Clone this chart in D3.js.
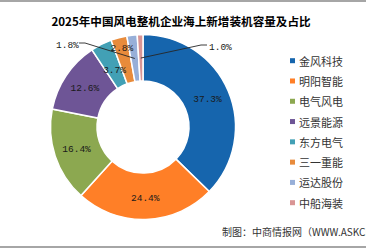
<!DOCTYPE html>
<html>
<head>
<meta charset="utf-8">
<script src="https://cdn.jsdelivr.net/npm/d3@7/dist/d3.min.js"></script>
<style>
html,body{margin:0;padding:0;background:#fff;}
svg{display:block;}
</style>
</head>
<body>
<svg id="chart" width="366" height="248"></svg>
<script>
const title = "2025年中国风电整机企业海上新增装机容量及占比";
const categories = ["金风科技","明阳智能","电气风电","远景能源","东方电气","三一重能","运达股份","中船海装"];
const shares = [37.3, 24.4, 16.4, 12.6, 3.7, 2.8, 1.8, 1.0];
const source = "制图：中商情报网（WWW.ASKCI.COM）";

const colors = ["#1665ad","#ff7f27","#8ca850","#6e5596","#42a0b5","#e88b3b","#97afd8","#d99595"];
// label placement tweaks (radius) and leader lines for small slices
const labelRadius = [70, 72, 70, 70, 63, 81, null, null];
const leaders = {6: {side: "left", tx: 56, ty: 44}, 7: {side: "right", tx: 209, ty: 46}};

const svg = d3.select("#chart");
const W = 366, H = 248;

// frame lines
svg.append("rect").attr("x",0).attr("y",0).attr("width",W).attr("height",2).attr("fill","#a6a6a6");
svg.append("rect").attr("x",0).attr("y",246).attr("width",W).attr("height",2).attr("fill","#a6a6a6");

svg.append("text")
  .attr("x", 181).attr("y", 25.5)
  .attr("text-anchor","middle")
  .attr("font-family","'Noto Sans CJK SC', sans-serif")
  .attr("font-weight","bold")
  .attr("font-size","11.6px")
  .attr("fill","#000")
  .text(title);

const cx = 143, cy = 127, R = 92.5, r0 = 46;
const g = svg.append("g").attr("transform",`translate(${cx},${cy})`);

const pie = d3.pie().sort(null).value(d => d);
const arcs = pie(shares);
const arc = d3.arc().innerRadius(r0).outerRadius(R);

g.selectAll("path.slice").data(arcs).enter().append("path")
  .attr("class","slice")
  .attr("d", arc)
  .attr("fill",(d,i)=>colors[i])
  .attr("stroke","#fff")
  .attr("stroke-width",1.5);

const labelFont = "'Liberation Mono', monospace";
arcs.forEach((d,i) => {
  const txt = d3.format(".1f")(d.data) + "%";
  if (leaders[i]) {
    const L = leaders[i];
    const mid = d3.arc().innerRadius(69).outerRadius(69).centroid(d);
    const px = mid[0] + cx, py = mid[1] + cy;
    let x1, x2;
    if (L.side === "left") {
      const tw = 22;
      x1 = L.tx + tw + 1; x2 = x1 + 6;
      svg.append("text").attr("x", L.tx).attr("y", L.ty + 3.5)
        .attr("font-family", labelFont).attr("font-size","9.5px").attr("fill","#1a1a1a").text(txt);
    } else {
      x1 = L.tx - 2; x2 = x1 - 6;
      svg.append("text").attr("x", L.tx).attr("y", L.ty + 3.5)
        .attr("font-family", labelFont).attr("font-size","9.5px").attr("fill","#1a1a1a").text(txt);
    }
    svg.append("path")
      .attr("d", `M${x1},${L.ty - 1}L${x2},${L.ty - 1}L${px},${py}`)
      .attr("fill","none").attr("stroke","#262626").attr("stroke-width",0.9);
  } else {
    const rr = labelRadius[i];
    const c = d3.arc().innerRadius(rr).outerRadius(rr).centroid(d);
    g.append("text")
      .attr("x", c[0]).attr("y", c[1])
      .attr("text-anchor","middle").attr("dominant-baseline","central")
      .attr("font-family", labelFont).attr("font-size","9.5px").attr("fill","#1a1a1a")
      .text(txt);
  }
});

// legend
const legendY = d3.scalePoint().domain(categories).range([60.7, 202.7]);
const lg = svg.append("g");
categories.forEach((c,i) => {
  const y = legendY(c);
  lg.append("rect").attr("x",290).attr("y",y-2.5).attr("width",5).attr("height",5).attr("fill",colors[i]);
  lg.append("text").attr("x",299).attr("y",y).attr("dominant-baseline","central")
    .attr("font-family","'Noto Sans CJK SC', sans-serif").attr("font-size","11px").attr("fill","#333")
    .text(c);
});

svg.append("text")
  .attr("x", 222).attr("y", 236)
  .attr("font-family","'Noto Sans CJK SC', sans-serif")
  .attr("font-size","10px").attr("fill","#333")
  .text(source);
</script>
</body>
</html>
